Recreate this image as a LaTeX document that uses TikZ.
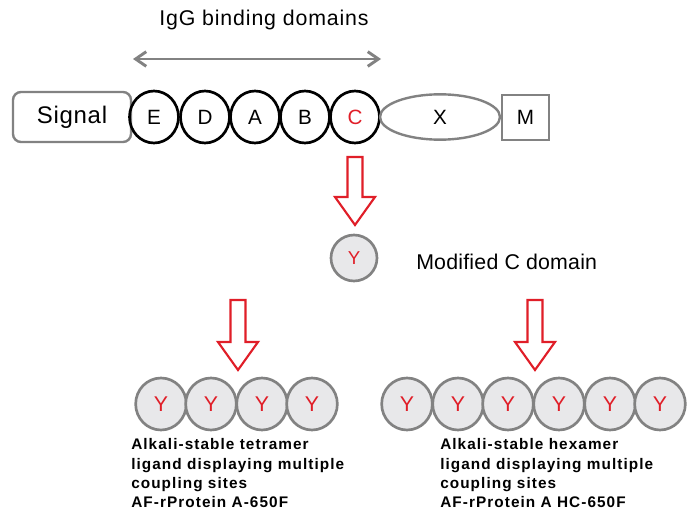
\documentclass[tikz,border=0pt]{standalone}
\usepackage{fontspec}
\setmainfont{Liberation Sans}
\newfontfamily\boldlabel[LetterSpace=7]{Liberation Sans Bold}
\newfontfamily\wideA[LetterSpace=4]{Liberation Sans}
\newfontfamily\wideB[LetterSpace=1]{Liberation Sans}
\newfontfamily\wideC[LetterSpace=3]{Liberation Sans}
\usetikzlibrary{arrows.meta,shapes.geometric}
\definecolor{redA}{RGB}{224,30,40}
\definecolor{grayA}{RGB}{130,130,130}
\definecolor{fillY}{RGB}{232,232,234}
\tikzset{
  dom/.style={ellipse, draw=black, line width=2pt, minimum width=36.75pt, minimum height=39pt, inner sep=0pt, font=\fontsize{15.5}{17}\selectfont},
  ydom/.style={ellipse, draw=grayA, fill=fillY, line width=2pt, minimum width=38pt, minimum height=39pt, inner sep=0pt, text=redA, font=\fontsize{16}{18}\selectfont},
  graybox/.style={draw=grayA, line width=1.8pt, inner sep=0pt, font=\fontsize{15.5}{17}\selectfont},
  hollow/.style={draw=redA, fill=white, line width=1.6pt, line join=miter},
  desc/.style={anchor=north west, align=left, inner sep=0pt, font=\boldlabel\fontsize{11.5}{14.4}\selectfont},
}
\newcommand{\hollowarrow}[3]{% x, ytop, ytip (pixel units)
  \draw[hollow] (#1-7.5,#2) -- (#1+7.5,#2) -- (#1+7.5,#3-28) -- (#1+20,#3-28) -- (#1,#3) -- (#1-20,#3-28) -- (#1-7.5,#3-28) -- cycle;}
\begin{document}
\begin{tikzpicture}[x=0.75pt,y=-0.75pt]
\useasboundingbox (0,0) rectangle (693,510);
% title and double arrow
\node[font=\wideA\fontsize{16}{18}\selectfont] (title) at (264,20) {IgG binding domains};
\coordinate (dl) at (133,59);
\coordinate (dr) at (381,59);
\draw[grayA, line width=2.2pt, {Straight Barb[length=8pt,width=11pt]}-{Straight Barb[length=8pt,width=11pt]}] (dl) -- (dr);
% top row
\node[graybox, rounded corners=6pt, minimum width=88.5pt, minimum height=37.5pt, font=\wideC\fontsize{18}{20}\selectfont] (sig) at (72,117) {Signal};
\node[dom] (E) at (154,117) {E};
\node[dom] (D) at (205,117) {D};
\node[dom] (A) at (255,117) {A};
\node[dom] (B) at (305,117) {B};
\node[dom, text=redA] (C) at (355,117) {C};
\node[ellipse, graybox, minimum width=90pt, minimum height=34pt] (X) at (440,117) {X};
\node[graybox, minimum width=35pt, minimum height=34pt] (M) at (525.5,117.5) {M};
% modified domain
\hollowarrow{355}{157}{225}
\node[ydom, minimum width=34.5pt, minimum height=34.5pt, font=\fontsize{14}{16}\selectfont] (Y0) at (354,258) {Y};
\node[anchor=west, inner sep=0pt, font=\wideB\fontsize{16}{18}\selectfont] (mod) at (416,262) {Modified C domain};
% arrows down
\hollowarrow{238}{300}{370}
\hollowarrow{535}{300}{370}
% tetramer
\node[ydom] (t1) at (161,404) {Y};
\node[ydom] (t2) at (211,404) {Y};
\node[ydom] (t3) at (262,404) {Y};
\node[ydom] (t4) at (312,404) {Y};
% hexamer
\node[ydom] (h1) at (407,404) {Y};
\node[ydom] (h2) at (458,404) {Y};
\node[ydom] (h3) at (508,404) {Y};
\node[ydom] (h4) at (559,404) {Y};
\node[ydom] (h5) at (610,404) {Y};
\node[ydom] (h6) at (660,404) {Y};
% descriptions
\node[desc] (dt) at (131,438.5) {Alkali-stable tetramer\\ligand displaying multiple\\coupling sites\\AF-rProtein A-650F};
\node[desc] (dh) at (440,438.5) {Alkali-stable hexamer\\ligand displaying multiple\\coupling sites\\AF-rProtein A HC-650F};
\end{tikzpicture}
\end{document}
